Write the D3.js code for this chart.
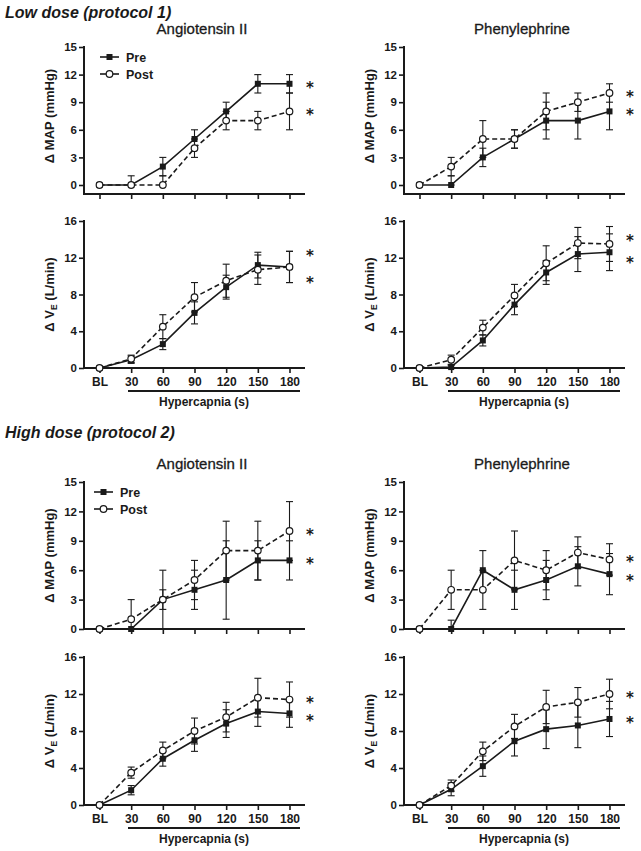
<!DOCTYPE html>
<html>
<head>
<meta charset="utf-8">
<script src="https://cdn.jsdelivr.net/npm/d3@7"></script>
<style>
  body { margin: 0; background: #fff; }
  text { font-family: "Liberation Sans", Arial, sans-serif; fill: #1a1a1a; }
</style>
</head>
<body>
<div id="chart"></div>
<script>
// time points (x categories)
var cats = ["BL", "30", "60", "90", "120", "150", "180"];
var mapTicks = [0, 3, 6, 9, 12, 15];
var veTicks = [0, 4, 8, 12, 16];

// low dose (protocol 1)
var lowAngMapPre = [0, 0, 2, 5, 8, 11, 11],           lowAngMapPreErr = [0, 0, 1, 1, 1, 1, 1];
var lowAngMapPost = [0, 0, 0, 4, 7, 7, 8],            lowAngMapPostErr = [0, 1, 1, 1, 1, 1, 2];
var lowPheMapPre = [0, 0, 3, 5, 7, 7, 8],             lowPheMapPreErr = [0, 1, 1, 1, 2, 2, 2];
var lowPheMapPost = [0, 2, 5, 5, 8, 9, 10],           lowPheMapPostErr = [0, 1, 2, 1, 2, 1, 1];
var lowAngVePre = [0, 0.9, 2.6, 6.0, 8.8, 11.2, 11.0],  lowAngVePreErr = [0, 0.4, 0.6, 1.2, 1.3, 1.4, 1.7];
var lowAngVePost = [0, 1.0, 4.5, 7.7, 9.5, 10.7, 11.0], lowAngVePostErr = [0, 0.4, 1.3, 1.6, 1.8, 1.6, 1.7];
var lowPheVePre = [0, 0.1, 3.0, 6.9, 10.4, 12.4, 12.6], lowPheVePreErr = [0, 0.2, 0.6, 1.1, 1.3, 1.9, 2.0];
var lowPheVePost = [0, 0.9, 4.4, 7.9, 11.4, 13.6, 13.5], lowPheVePostErr = [0, 0.5, 0.8, 1.2, 1.9, 1.7, 1.9];

// high dose (protocol 2)
var highAngMapPre = [0, 0, 3, 4, 5, 7, 7],            highAngMapPreErr = [0, 0, 3, 2, 4, 2, 2];
var highAngMapPost = [0, 1, 3, 5, 8, 8, 10],          highAngMapPostErr = [0, 2, 1, 2, 3, 3, 3];
var highPheMapPre = [0, 0, 6, 4, 5, 6.4, 5.6],        highPheMapPreErr = [0, 0.9, 2, 2, 2, 2, 2.1];
var highPheMapPost = [0, 4, 4, 7, 6, 7.8, 7.1],       highPheMapPostErr = [0, 2, 2, 3, 2, 1.6, 1.6];
var highAngVePre = [0, 1.6, 5.0, 7.0, 8.8, 10.1, 9.9],  highAngVePreErr = [0, 0.5, 0.8, 1.2, 1.5, 1.6, 1.5];
var highAngVePost = [0, 3.5, 5.9, 8.0, 9.5, 11.6, 11.4], highAngVePostErr = [0, 0.6, 0.9, 1.4, 1.6, 2.1, 1.9];
var highPheVePre = [0, 1.7, 4.2, 6.9, 8.2, 8.6, 9.3],   highPheVePreErr = [0, 0.7, 1.1, 1.6, 2.1, 2.4, 1.9];
var highPheVePost = [0, 2.1, 5.8, 8.5, 10.6, 11.1, 12.0], highPheVePostErr = [0, 0.6, 1.0, 1.3, 1.8, 1.6, 1.6];

// asterisk heights (data units) for [Post/upper, Pre/lower]
var starsLowAngMap = [11, 8], starsLowPheMap = [10, 8];
var starsLowAngVe = [12.6, 9.7], starsLowPheVe = [14.3, 11.9];
var starsHighAngMap = [10, 7], starsHighPheMap = [7.2, 5.3];
var starsHighAngVe = [11.5, 9.5], starsHighPheVe = [12, 9.3];

var W = 641, H = 851;
var svg = d3.select("#chart").append("svg")
    .attr("width", W)
    .attr("height", H);

// section headings
svg.append("text").attr("x", 5).attr("y", 18)
  .style("font-size", "16px").style("font-weight", "bold").style("font-style", "italic")
  .text("Low dose (protocol 1)");
svg.append("text").attr("x", 5).attr("y", 438)
  .style("font-size", "16px").style("font-weight", "bold").style("font-style", "italic")
  .text("High dose (protocol 2)");

function drawPanel(p) {
  var g = svg.append("g");
  var x = d3.scalePoint().domain(cats).range([p.left + 15.5, p.left + 205.5]);
  var y = d3.scaleLinear().domain([0, p.max]).range([p.bottom, p.top]);
  var axisY = p.axisY || p.bottom;

  // y axis ticks
  var ya = g.append("g")
    .attr("transform", "translate(" + p.left + ",0)")
    .call(d3.axisLeft(y).tickValues(p.ticks).tickSize(5).tickPadding(2));
  ya.select(".domain").remove();
  ya.selectAll("line").attr("stroke", "#1a1a1a").attr("stroke-width", 1.6);
  ya.selectAll("text").style("font-size", "11.5px").style("font-weight", "bold")
    .style("font-family", "Liberation Sans, Arial, sans-serif").attr("fill", "#1a1a1a");

  // x axis ticks
  var xa = g.append("g")
    .attr("transform", "translate(0," + axisY + ")")
    .call(d3.axisBottom(x).tickSize(5).tickSizeOuter(0).tickPadding(4)
      .tickFormat(p.xLabels ? null : ""));
  xa.select(".domain").remove();
  xa.selectAll("line").attr("stroke", "#1a1a1a").attr("stroke-width", 1.6);
  xa.selectAll("text").style("font-size", "12px").style("font-weight", "bold")
    .style("font-family", "Liberation Sans, Arial, sans-serif").attr("fill", "#1a1a1a");

  // axis lines
  g.append("line").attr("x1", p.left).attr("x2", p.left)
    .attr("y1", p.top - 1).attr("y2", axisY + 1)
    .attr("stroke", "#1a1a1a").attr("stroke-width", 2);
  g.append("line").attr("x1", p.left).attr("x2", p.left + 221)
    .attr("y1", axisY).attr("y2", axisY)
    .attr("stroke", "#1a1a1a").attr("stroke-width", 2);

  // title
  g.append("text").attr("x", p.left + 118).attr("y", p.top - 13)
    .attr("text-anchor", "middle").style("font-size", "15px")
    .style("stroke", "#1a1a1a").style("stroke-width", 0.3)
    .text(p.title);

  // y label
  var lab = g.append("text")
    .attr("transform", "translate(" + (p.left - 30) + "," + ((p.top + p.bottom) / 2) + ") rotate(-90)")
    .attr("text-anchor", "middle").style("font-size", "13px").style("font-weight", "bold");
  if (p.ve) {
    lab.append("tspan").text("\u0394 V");
    lab.append("tspan").attr("dy", 3).style("font-size", "8.5px").text("E");
    lab.append("tspan").attr("dy", -3).text(" (L/min)");
  } else {
    lab.text("\u0394 MAP (mmHg)");
  }

  // hypercapnia bar and label
  if (p.xLabels) {
    g.append("line").attr("x1", p.left + 44).attr("x2", p.left + 216)
      .attr("y1", axisY + 23).attr("y2", axisY + 23)
      .attr("stroke", "#1a1a1a").attr("stroke-width", 2);
    g.append("text").attr("x", p.left + 120).attr("y", axisY + 38)
      .attr("text-anchor", "middle").style("font-size", "12px").style("font-weight", "bold")
      .text("Hypercapnia (s)");
  }

  var series = [
    {v: p.pre, e: p.preErr, dash: null, open: false},
    {v: p.post, e: p.postErr, dash: "5,3", open: true}
  ];

  // error bars
  series.forEach(function (s) {
    var eb = g.append("g");
    cats.forEach(function (c, i) {
      if (!s.e[i]) return;
      var cx = x(c), lo = y(Math.max(0, s.v[i] - s.e[i])), hi = y(s.v[i] + s.e[i]);
      eb.append("line").attr("x1", cx).attr("x2", cx).attr("y1", lo).attr("y2", hi)
        .attr("stroke", "#1a1a1a").attr("stroke-width", 1.1);
      [lo, hi].forEach(function (yy) {
        eb.append("line").attr("x1", cx - 3.5).attr("x2", cx + 3.5).attr("y1", yy).attr("y2", yy)
          .attr("stroke", "#1a1a1a").attr("stroke-width", 1.1);
      });
    });
  });

  // lines
  var line = d3.line().x(function (d, i) { return x(cats[i]); }).y(function (d) { return y(d); });
  series.forEach(function (s) {
    g.append("path").datum(s.v).attr("d", line)
      .attr("fill", "none").attr("stroke", "#1a1a1a").attr("stroke-width", 1.6)
      .attr("stroke-dasharray", s.dash);
  });

  // markers
  g.append("g").selectAll("rect").data(p.pre).enter().append("rect")
    .attr("x", function (d, i) { return x(cats[i]) - 3; })
    .attr("y", function (d) { return y(d) - 3; })
    .attr("width", 6).attr("height", 6).attr("fill", "#1a1a1a");
  g.append("g").selectAll("circle").data(p.post).enter().append("circle")
    .attr("cx", function (d, i) { return x(cats[i]); })
    .attr("cy", function (d) { return y(d); })
    .attr("r", 3.3).attr("fill", "#fff").attr("stroke", "#1a1a1a").attr("stroke-width", 1.2);

  // significance asterisks
  g.selectAll(".star").data(p.stars).enter().append("text")
    .attr("x", p.left + 222).attr("y", function (d) { return y(d) + 9; })
    .style("font-family", "DejaVu Sans, sans-serif")
    .style("font-size", "15px").style("font-weight", "bold")
    .text("*");

  // legend
  if (p.legend) {
    var lx = p.legend[0], ly = p.legend[1];
    [{t: "Pre", dash: null, open: false}, {t: "Post", dash: "5,3", open: true}].forEach(function (d, i) {
      var yy = ly + i * 17;
      g.append("line").attr("x1", lx).attr("x2", lx + 19).attr("y1", yy).attr("y2", yy)
        .attr("stroke", "#1a1a1a").attr("stroke-width", 1.6);
      if (d.open) {
        g.append("circle").attr("cx", lx + 9.5).attr("cy", yy).attr("r", 3.3)
          .attr("fill", "#fff").attr("stroke", "#1a1a1a").attr("stroke-width", 1.2);
      } else {
        g.append("rect").attr("x", lx + 6.5).attr("y", yy - 3).attr("width", 6).attr("height", 6)
          .attr("fill", "#1a1a1a");
      }
      g.append("text").attr("x", lx + 26).attr("y", yy + 4.5)
        .style("font-size", "12.5px").style("font-weight", "bold").text(d.t);
    });
  }
}

// low dose panels
drawPanel({left: 84, top: 47, bottom: 185, axisY: 194, max: 15, ticks: mapTicks, title: "Angiotensin II",
  pre: lowAngMapPre, preErr: lowAngMapPreErr, post: lowAngMapPost, postErr: lowAngMapPostErr,
  stars: starsLowAngMap, legend: [100, 57]});
drawPanel({left: 404, top: 47, bottom: 185, axisY: 194, max: 15, ticks: mapTicks, title: "Phenylephrine",
  pre: lowPheMapPre, preErr: lowPheMapPreErr, post: lowPheMapPost, postErr: lowPheMapPostErr,
  stars: starsLowPheMap});
drawPanel({left: 84, top: 221, bottom: 368, max: 16, ticks: veTicks, ve: true, xLabels: true,
  pre: lowAngVePre, preErr: lowAngVePreErr, post: lowAngVePost, postErr: lowAngVePostErr,
  stars: starsLowAngVe});
drawPanel({left: 404, top: 221, bottom: 368, max: 16, ticks: veTicks, ve: true, xLabels: true,
  pre: lowPheVePre, preErr: lowPheVePreErr, post: lowPheVePost, postErr: lowPheVePostErr,
  stars: starsLowPheVe});

// high dose panels
drawPanel({left: 84, top: 482, bottom: 629, max: 15, ticks: mapTicks, title: "Angiotensin II",
  pre: highAngMapPre, preErr: highAngMapPreErr, post: highAngMapPost, postErr: highAngMapPostErr,
  stars: starsHighAngMap, legend: [94, 492]});
drawPanel({left: 404, top: 482, bottom: 629, max: 15, ticks: mapTicks, title: "Phenylephrine",
  pre: highPheMapPre, preErr: highPheMapPreErr, post: highPheMapPost, postErr: highPheMapPostErr,
  stars: starsHighPheMap});
drawPanel({left: 84, top: 657, bottom: 805, max: 16, ticks: veTicks, ve: true, xLabels: true,
  pre: highAngVePre, preErr: highAngVePreErr, post: highAngVePost, postErr: highAngVePostErr,
  stars: starsHighAngVe});
drawPanel({left: 404, top: 657, bottom: 805, max: 16, ticks: veTicks, ve: true, xLabels: true,
  pre: highPheVePre, preErr: highPheVePreErr, post: highPheVePost, postErr: highPheVePostErr,
  stars: starsHighPheVe});
</script>
</body>
</html>
